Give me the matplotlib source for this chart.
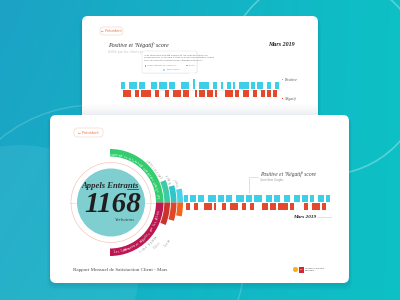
import numpy as np
import matplotlib
matplotlib.use("Agg")
import matplotlib.pyplot as plt
from matplotlib.patches import FancyBboxPatch, Circle, Wedge, Rectangle, Polygon

# ---------------- data ----------------
# daily verbatim barcode (top card), one value per slot
top_positive = [1, 1, 0, 0, 1, 1, 1, 1, 0, 1,
                1, 1, 0, 0, 0, 1, 1, 1, 0, 1,
                1, 1, 1, 0, 1, 1, 1, 0, 0, 0,
                1, 1, 1, 1, 0, 0, 1.5, 0, 0, 1,
                1, 1, 1, 1, 0, 0, 1, 1, 0, 0,
                1, 0, 0, 1, 1, 0, 1, 0, 0, 1,
                1, 1, 1, 1, 0, 1, 1, 0, 1, 1,
                1, 0, 0, 1, 1, 0, 0, 1, 1, 0]
top_negative = [0, 1, 1, 1, 1, 0, 0, 1, 1, 0,
                1, 1, 1, 1, 1, 0, 0, 1, 1, 0,
                0, 0, 1, 1, 0, 0, 1, 1, 1, 1,
                0, 1, 1, 1, 0, 0, 0, 1, 0, 1,
                1, 1, 0, 1, 1, 1, 0, 1, 0, 0,
                0, 0, 1, 1, 1, 1, 0, 1, 1, 0,
                0, 1, 1, 1, 0, 0, 1, 1, 0, 0,
                1, 1, 0, 1, 1, 0, 1, 1, 0, 0]
# daily verbatim barcode (bottom card)
bottom_positive = [1, 1, 0, 1, 1, 1, 0, 1, 1, 1,
                   0, 0, 1, 1, 1, 1, 0, 1, 1, 1,
                   0, 1, 1, 1, 0, 0, 1, 1, 1, 1,
                   0, 1, 1, 1, 0, 1, 1, 1, 1, 0,
                   0, 1, 1, 1, 0, 1, 1, 1, 0, 0,
                   1, 1, 1, 0, 0, 1, 1, 1, 0, 1,
                   1, 1, 0, 1, 1, 0, 0, 1, 1, 1,
                   0, 1, 1]
bottom_negative = [0, 1, 1, 0, 0, 1, 1, 0, 0, 0,
                   1, 1, 1, 1, 0, 1, 0, 0, 0, 1,
                   1, 0, 0, 1, 1, 1, 1, 0, 0, 1,
                   1, 0, 0, 1, 1, 0, 0, 0, 0, 1,
                   1, 1, 0, 1, 1, 1, 0, 1, 1, 1,
                   1, 1, 0, 1, 1, 0, 0, 0, 0, 0,
                   1, 1, 0, 0, 1, 1, 1, 1, 0, 1,
                   1, 0, 0]

# sunburst: angular extent (degrees) of each ring, positive (top) / negative (bottom)
pos_spans = [90, 22, 15, 11]
neg_spans = [90, 22, 16, 11]
pos_colors = ["#33cd6f", "#3dcba6", "#2ec6c6", "#45d2ea"]
neg_colors = ["#bd1650", "#c9332b", "#e0462a", "#f2661c"]
pos_arc_label = "Les clients satisfaits du service et du conseil"
neg_arc_label = "Les Commentaires négatifs sur les délais"
pos_side_labels = ["Qualité de l'accueil", "Rapidité", "Conseil"]
neg_side_labels = ["Attente trop longue", "Délais", "Erreurs"]

center_title = "Appels Entrants"
center_value = "1168"
center_unit = "Verbatims"
chart_title = "Positive et 'Négatif' score"
chart_subtitle = "Quotidien Graphe"
month_label = "Mars 2019"
report_title = "Rapport Mensuel de Satisfaction Client - Mars"
back_label = "← Précédent"
legend_labels = ["Positive", "Négatif"]

BLUE = "#3ecfe8"
RED = "#e5482b"
SERIF = "Liberation Serif"

# ---------------- figure ----------------
fig = plt.figure(figsize=(4, 3), dpi=100)
ax = fig.add_axes([0, 0, 1, 1])
ax.set_xlim(0, 400)
ax.set_ylim(300, 0)
ax.axis("off")

# background gradient
gx = np.linspace(0, 1, 200)[None, :]
gy = np.linspace(0, 1, 150)[:, None]
t = np.clip(0.75 * gx + 0.25 * gy * (1 - gx), 0, 1)
c0 = np.array([0x1c, 0xa2, 0xc6]) / 255
c1 = np.array([0x08, 0xcb, 0xc5]) / 255
img = c0[None, None, :] * (1 - t[..., None]) + c1[None, None, :] * t[..., None]
ax.imshow(img, extent=(0, 400, 300, 0), aspect="auto", zorder=0)

# decorative circles
ax.add_patch(Circle((20, 265), 120, facecolor="white", alpha=0.07, edgecolor="none", zorder=1))
ax.add_patch(Circle((325, 75), 100, facecolor="none", edgecolor="white", alpha=0.3, lw=1.2, zorder=1))
ax.add_patch(Circle((95, 255), 150, facecolor="none", edgecolor="white", alpha=0.18, lw=1.0, zorder=1))


def card(x0, y0, x1, y1, z):
    for k, a in enumerate([0.05, 0.04, 0.03]):
        ax.add_patch(FancyBboxPatch((x0 - 1 - k, y0 + 1 + k), x1 - x0 + 2 + 2 * k, y1 - y0 + 2 + k,
                                    boxstyle="round,pad=0,rounding_size=7", facecolor="#06384a",
                                    edgecolor="none", alpha=a, zorder=z))
    ax.add_patch(FancyBboxPatch((x0, y0), x1 - x0, y1 - y0, boxstyle="round,pad=0,rounding_size=6",
                                facecolor="white", edgecolor="none", zorder=z + 0.1))


def button(x0, y0, w, h, z):
    ax.add_patch(FancyBboxPatch((x0, y0), w, h, boxstyle="round,pad=0,rounding_size=3.5",
                                facecolor="white", edgecolor="#f6d9cf", lw=0.5, zorder=z))
    ax.text(x0 + w / 2, y0 + h / 2, back_label, fontsize=2.4, color="#f07040",
            ha="center", va="center", zorder=z + 0.1)


# ---------------- top card ----------------
card(82, 16, 318, 122, 2)
shade = np.linspace(0, 1, 30)[:, None, None] * np.ones((1, 2, 1))
rgba = np.concatenate([np.ones((30, 2, 3)) * np.array([0.86, 0.88, 0.91]), 0.6 * shade ** 1.6], axis=2)
ax.imshow(rgba, extent=(82, 318, 115.5, 103), aspect="auto", zorder=2.5)
button(100, 27, 23, 8, 3)
ax.text(108, 45, chart_title, fontsize=4.3, style="italic", family=SERIF, color="#333333",
        va="center", zorder=3)
ax.text(108, 52, "Défilé par les clients pour le mois en cours", fontsize=2.2, color="#c0c4c8",
        va="center", zorder=3)
ax.text(295, 45, month_label, fontsize=4.3, style="italic", weight="bold", family=SERIF,
        color="#222222", ha="right", va="center", zorder=3)

# tooltip
ax.add_patch(FancyBboxPatch((142.5, 51.5), 55, 22, boxstyle="round,pad=0,rounding_size=2",
                            facecolor="#e8ecef", edgecolor="none", zorder=3))
ax.add_patch(FancyBboxPatch((142, 51), 55, 22, boxstyle="round,pad=0,rounding_size=2",
                            facecolor="white", edgecolor="#e2e6ea", lw=0.4, zorder=3.1))
ax.add_patch(Polygon([[189, 72.8], [195, 72.8], [193.5, 76.5]], closed=True, facecolor="white",
                     edgecolor="none", zorder=3.2))
for i, line in enumerate(["\"Les réponses ont été claires et les conseils utiles, je",
                          "recommande le service à mes proches sans hésiter, merci",
                          "pour le suivi et la patience de l'équipe Mutuelle.\""]):
    ax.text(144.5, 55 + i * 2.6, line, fontsize=1.7, color="#666666", va="center", zorder=3.3)
ax.add_patch(Rectangle((144.5, 65), 1.5, 1.5, facecolor=BLUE, zorder=3.3))
ax.text(147, 65.8, "Client satisfait du conseiller", fontsize=1.5, color="#888888", va="center", zorder=3.3)
ax.add_patch(Rectangle((186, 64.5), 1.5, 1.5, facecolor="#f5a623", zorder=3.3))
ax.text(188.5, 65.8, "Positif", fontsize=1.5, color="#888888", va="center", zorder=3.3)
ax.add_patch(Rectangle((163, 68.8), 2, 2, facecolor="#9fe2ee", zorder=3.3))
ax.text(166.5, 69.8, "Conversation", fontsize=1.5, color="#888888", va="center", zorder=3.3)

ax.add_patch(Rectangle((282, 79), 1, 1, facecolor=BLUE, zorder=3))
ax.text(284, 80, legend_labels[0], fontsize=2.8, style="italic", family=SERIF, color="#555555",
        va="center", zorder=3)
ax.add_patch(Rectangle((282, 97.5), 1, 1, facecolor=RED, zorder=3))
ax.text(284, 99, legend_labels[1], fontsize=2.8, style="italic", family=SERIF, color="#555555",
        va="center", zorder=3)

# top barcode chart
axt = fig.add_axes([121 / 400, 1 - 98 / 300, 160 / 400, 21 / 300])
axt.set_xlim(-0.5, len(top_positive) - 0.5)
axt.set_ylim(-1.214, 1.786)
axt.axis("off")
xs = np.arange(len(top_positive))
axt.bar(xs, top_positive, bottom=0.07, width=0.9, color=BLUE, linewidth=0)
axt.bar(xs, [-v for v in top_negative], bottom=-0.07, width=0.9, color=RED, linewidth=0)
axt.axhline(0, xmin=-0.02, color="#dde3e6", lw=0.4, zorder=0)

# ---------------- bottom card ----------------
card(50, 115, 349, 283, 5)
button(74, 128, 29, 9, 6)

cx, cy = 110, 202.5
ax.plot([70, 184], [cy, cy], color="#f2cabe", lw=0.4, zorder=6)
ax.add_patch(Circle((cx + 1, cy), 34, facecolor="#7fcfd1", edgecolor="none", zorder=6))
ax.add_patch(Circle((cx + 1, cy), 40, facecolor="none", edgecolor="#f3b9a9", lw=0.4, zorder=6.2))

rings = [(46, 53.5), (54.3, 60), (60.8, 66.5), (67.3, 73)]
for (r0, r1), sp, col in zip(rings, pos_spans, pos_colors):
    ax.add_patch(Wedge((cx, cy), r1, -sp, 0, width=r1 - r0, facecolor=col, edgecolor="none", zorder=6.5))
for (r0, r1), sp, col in zip(rings, neg_spans, neg_colors):
    ax.add_patch(Wedge((cx, cy), r1, 0, sp, width=r1 - r0, facecolor=col, edgecolor="none", zorder=6.5))


def curved_text(text, r, a_start, step_px, size, color, z=7):
    a = np.deg2rad(a_start)
    for ch in text:
        x = cx + r * np.cos(a)
        y = cy - r * np.sin(a)
        ax.text(x, y, ch, fontsize=size, color=color, rotation=np.rad2deg(a) + 90,
                rotation_mode="anchor", ha="center", va="center", family=SERIF, zorder=z)
        a += step_px / r


curved_text(pos_arc_label, 49.8, 6, 1.65, 2.6, "white")
curved_text(neg_arc_label, 49.8, -84, 1.65, 2.6, "white")
for lab, r, a0 in zip(pos_side_labels, [57.5, 64, 70.5], [26, 18, 14]):
    curved_text(lab, r, a0, 1.2, 1.8, "#9a9a9a")
for lab, r, a0 in zip(neg_side_labels, [57.5, 64, 70.5], [-58, -45, -38]):
    curved_text(lab, r, a0, 1.2, 1.8, "#9a9a9a")

# central texts
ax.text(81, 188.5, center_title, fontsize=6.2, style="italic", weight="bold", family=SERIF,
        color="#2a2a2a", va="baseline", zorder=8)
ax.plot([127, 138], [189, 189], color="#2a2a2a", lw=0.5, zorder=8)
ax.text(113, 211.5, center_value, fontsize=21, style="italic", weight="bold", family=SERIF,
        color="#1f1f1f", ha="center", va="baseline", zorder=8)
ax.text(125, 219.8, center_unit, fontsize=3.6, style="italic", family=SERIF, color="#444444",
        ha="center", va="center", zorder=8)

# bottom barcode chart
axb = fig.add_axes([184 / 400, 1 - 211 / 300, 146 / 400, 17 / 300])
axb.set_xlim(-0.5, len(bottom_positive) - 0.5)
axb.set_ylim(-1.214, 1.214)
axb.axis("off")
xb = np.arange(len(bottom_positive))
axb.bar(xb, bottom_positive, bottom=0.07, width=0.9, color=BLUE, linewidth=0)
axb.bar(xb, [-v for v in bottom_negative], bottom=-0.07, width=0.9, color=RED, linewidth=0)

# annotations bottom card
ax.plot([258, 248.5, 248.5], [177, 177, 193], color="#c8c8c8", lw=0.4, zorder=8)
ax.text(260, 174.5, chart_title, fontsize=4.0, style="italic", family=SERIF, color="#444444",
        va="center", zorder=8)
ax.text(260, 180.5, chart_subtitle, fontsize=2.3, family=SERIF, color="#999999", va="center", zorder=8)
ax.text(316, 216.5, month_label, fontsize=3.8, style="italic", weight="bold", family=SERIF,
        color="#222222", ha="right", va="center", zorder=8)
ax.plot([317, 331], [216.5, 216.5], color="#c8c8c8", lw=0.4, zorder=8)

ax.text(73, 269.5, report_title, fontsize=3.6, family=SERIF, color="#4a4a4a", va="center", zorder=8)
ax.add_patch(Circle((295.5, 269.5), 2.6, facecolor="#f5b316", edgecolor="none", zorder=8))
ax.add_patch(Rectangle((299, 266.5), 5, 6, facecolor="#d4262e", edgecolor="none", zorder=8))
ax.text(301.5, 269.5, "mfh", fontsize=1.3, color="white", ha="center", va="center", zorder=8.1)
ax.text(305, 268.3, "mutuelli mestre", fontsize=1.7, color="#555555", va="center", zorder=8)
ax.text(305, 270.8, "humains", fontsize=1.7, color="#555555", va="center", zorder=8)

fig.savefig("out.png", dpi=100)
